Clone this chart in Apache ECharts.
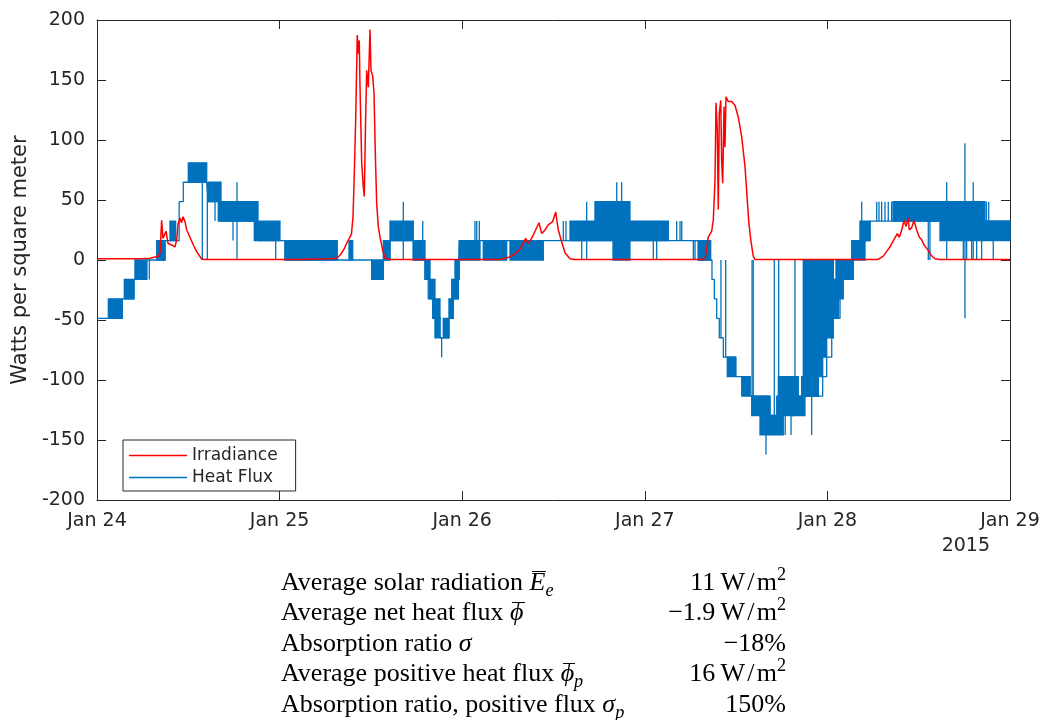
<!DOCTYPE html>
<html>
<head>
<meta charset="utf-8">
<script src="https://cdn.jsdelivr.net/npm/echarts@6/dist/echarts.min.js"></script>
<style>
  html, body { margin: 0; padding: 0; background: #fff; }
  #chart { position: absolute; left: 0; top: 0; width: 1048px; height: 720px; }
  #stats { position: absolute; left: 281px; top: 567px; width: 505px;
           font-family: "Liberation Serif", serif; font-size: 26px; color: #000; }
  #stats .row { display: flex; justify-content: space-between; height: 30.4px; line-height: 30.4px; white-space: nowrap; }
  #stats i { font-style: italic; }
  #stats .ov { position: relative; }
  #stats .ov::after { content: ''; position: absolute; left: 2px; right: -1px; top: 0.17em; border-top: 1px solid #000; }
  #stats sub, #stats sup { font-size: 70%; line-height: 0; }
</style>
</head>
<body>
<div id="chart"></div>
<div id="stats"></div>
<script>
// Time is measured in hours from Jan 24 2015, 00:00.
const dayLabels = ['Jan 24', 'Jan 25', 'Jan 26', 'Jan 27', 'Jan 28', 'Jan 29'];
const yearLabel = '2015';

// Solar irradiance [hour, W/m^2]
const irradiance = [
  [0,1],[5.65,1],[6.97,1.5],[7.36,2],[8.02,3],[8.28,6],[8.50,33],[8.67,18],[8.80,17],[9.07,24],
  [9.33,14],[9.82,12.5],[10.25,11],[10.48,17],[10.65,30],[10.91,35],[11.11,31],[11.30,36],[11.57,32],
  [11.79,25],[12.22,19],[12.66,12.5],[13.10,7],[13.76,0.8],[14.19,0.5],[26.68,0.5],[30.62,1],
  [31.54,1.5],[32.07,5],[32.46,9],[32.82,14],[32.99,12.5],[33.25,19],[33.45,22],[33.65,36],[33.82,72],
  [34.00,117],[34.21,187.5],[34.34,172],[34.47,183],[34.57,144],[34.79,81],[35.00,61],[35.13,53],
  [35.32,122],[35.45,158],[35.66,144],[35.88,192],[36.01,158],[36.24,153],[36.41,139],[36.58,89],
  [36.76,47],[36.97,28],[37.20,19],[37.55,8],[37.86,1.5],[38.51,0.5],[52.97,0.5],[54.02,2],[54.94,5],
  [55.60,9],[56.35,18],[56.65,14],[57.13,18],[57.57,24],[58.09,31],[58.45,22],[58.88,25],[59.28,29],
  [59.89,32],[60.29,40],[60.63,25],[61.08,15],[61.51,6],[62.17,1],[62.83,0.5],[79.25,0.5],[79.91,1],
  [80.11,8],[80.34,19],[80.79,24],[81.00,33],[81.23,67],[81.36,131],[81.53,108],[81.66,42],[81.79,122],
  [81.98,133],[82.11,81],[82.24,64],[82.41,128],[82.54,94],[82.67,136],[82.97,132],[83.42,132],
  [83.85,129],[84.29,119],[84.73,103],[85.17,78],[85.47,50],[85.65,33],[85.92,17],[86.26,3],[86.48,0.5],
  [102.65,0.5],[103.31,3],[103.79,7],[104.23,11],[104.75,17],[105.19,22],[105.45,19],[105.77,25],
  [106.07,33],[106.33,28],[106.63,35],[106.76,25],[107.08,27],[107.38,33],[107.74,25],[108.08,19],
  [108.39,17],[108.70,12.5],[108.96,14],[109.26,8],[109.62,4],[110.14,1],[110.80,0.5],[120,0.5]
];

// Heat flux: step trace [hour, W/m^2], value held until the next point
const fluxTrace = [
  [0,-48.6],[1.49,-48.6],[3.33,-32.4],[4.86,-16.2],[6.53,0],[6.87,-16.2],[6.87,0],[8.94,16.2],
  [10.80,48.6],[11.34,64.8],[14.42,64.8],[14.63,48.6],[16.30,32.4],[21.16,16.2],[24.71,0],
  [36.10,-16.2],[37.63,0],[38.51,16.2],[41.57,0],[43.11,-16.2],[43.77,-32.4],[44.42,-48.6],
  [45.08,-64.8],[46.26,-48.6],[46.83,-32.4],[47.49,-16.2],[47.62,16.2],[79.03,0],[80.83,-16.2],
  [81.14,-32.4],[81.45,-48.6],[81.79,-64.8],[82.32,-81],[83.95,-97.2],[85.83,-113.4],[88.45,-129.6],
  [90.20,-113.4],[95.38,-97.2],[95.91,-81],[96.57,-48.6],[97.66,-16.2],[99.40,16.2],[101.60,32.4],[120,32.4]
];

// Heat flux: spans where the reading toggles rapidly between two levels [from, to, low, high]
const fluxBands = [
  [1.49,3.33,-48.6,-32.4],[3.59,4.86,-32.4,-16.2],[4.99,6.53,-16.2,0],[7.85,8.94,0,16.2],
  [9.59,10.34,16.2,32.4],[12.00,14.42,64.8,81],[14.63,16.30,48.6,64.8],[15.94,21.16,32.4,48.6],
  [20.67,24.05,16.2,32.4],[24.71,31.58,0,16.2],[33.12,33.61,0,16.2],[36.10,37.63,-16.2,0],
  [37.63,38.51,0,16.2],[38.51,41.57,16.2,32.4],[41.57,43.11,0,16.2],[43.11,43.77,-16.2,0],
  [43.54,44.42,-32.4,-16.2],[44.12,45.08,-48.6,-32.4],[44.42,45.08,-64.8,-48.6],[45.51,46.26,-64.8,-48.6],
  [46.26,46.83,-48.6,-32.4],[46.62,47.49,-32.4,-16.2],[47.05,47.62,-16.2,0],[47.62,50.34,0,16.2],
  [50.77,53.85,0,16.2],[54.28,58.66,0,16.2],[62.17,75.09,16.2,32.4],[65.45,70.05,32.4,48.6],
  [67.82,70.05,0,16.2],[79.03,80.66,0,16.2],[82.84,83.95,-97.2,-81],[84.74,85.83,-113.4,-97.2],
  [86.05,88.45,-129.6,-113.4],[87.14,90.20,-145.8,-129.6],[89.34,91.51,-129.6,-113.4],
  [89.55,92.17,-113.4,-97.2],[91.44,93.05,-129.6,-113.4],[92.62,94.80,-113.4,-97.2],
  [92.83,94.80,-113.4,0],[94.80,95.38,-97.2,0],[95.38,95.91,-81,0],[95.91,96.78,-64.8,0],
  [96.57,97.47,-48.6,-16.2],[97.47,98.09,-32.4,-16.2],[97.13,99.40,-16.2,0],[99.19,100.94,0,16.2],
  [100.28,101.60,16.2,32.4],[104.62,116.71,32.4,48.6],[110.80,120,16.2,32.4]
];

// Heat flux: single-sample excursions [hour, low, high]
const fluxSpikes = [
  [13.84,0,81],[14.50,0,64.8],[15.51,32.4,64.8],[17.88,16.2,48.6],[18.40,0,64.8],[23.49,0,32.4],
  [40.26,0,48.6],[42.81,0,32.4],[45.30,-81,-64.8],[49.68,0,32.4],[49.91,0,32.4],[50.25,0,32.4],
  [61.29,16.2,32.4],[61.64,16.2,32.4],[63.71,0,32.4],[64.36,0,48.6],[68.31,16.2,64.8],[68.96,16.2,64.8],
  [73.12,0,32.4],[73.56,0,32.4],[76.19,16.2,32.4],[76.63,16.2,32.4],[76.85,16.2,32.4],
  [78.38,0,16.2],[78.60,0,16.2],[82.01,-64.8,0],[82.63,-81,0],[86.10,-113.4,0],[86.25,-113.4,0],
  [89.02,-129.6,0],[89.60,-97.2,0],[91.74,-97.2,0],[87.93,-162,-129.6],[90.45,-145.8,-113.4],
  [91.22,-145.8,-113.4],[93.93,-145.8,-113.4],[100.51,32.4,48.6],[102.48,32.4,48.6],[102.78,32.4,48.6],
  [103.13,32.4,48.6],[103.57,32.4,48.6],[104.00,32.4,48.6],[104.44,32.4,48.6],[109.26,0,32.4],
  [109.48,0,32.4],[111.68,0,64.8],[113.86,0,32.4],[114.08,-48.6,97.2],[114.30,0,32.4],[114.96,0,32.4],
  [115.17,0,64.8],[115.62,0,32.4],[116.27,0,32.4],[117.80,0,32.4],[116.90,16.2,48.6],[117.20,16.2,48.6]
];

// Summary statistics
const statNames = [
  'Average solar radiation <i class="ov">E</i><sub><i>e</i></sub>',
  'Average net heat flux <i class="ov">\u03D5</i>',
  'Absorption ratio <i>\u03C3</i>',
  'Average positive heat flux <i class="ov">\u03D5</i><sub><i>p</i></sub>',
  'Absorption ratio, positive flux <i>\u03C3</i><sub><i>p</i></sub>'
];
const statValues = ['11', '\u22121.9', '\u221218', '16', '150'];
const statUnits = ['W/m2', 'W/m2', '%', 'W/m2', '%'];

function unitHtml(u) {
  if (u === 'W/m2') return '\u2009W\u200A/\u200Am<sup>2</sup>';
  return u;
}
document.getElementById('stats').innerHTML = statNames.map((n, i) =>
  '<div class="row"><span>' + n + '</span><span>' + statValues[i] + unitHtml(statUnits[i]) + '</span></div>'
).join('');

const RED = '#FF0000';
const BLUE = '#0072BD';
const INK = '#262626';
const SANS = 'DejaVu Sans';

const chart = echarts.init(document.getElementById('chart'), null, { renderer: 'canvas' });

const axisBase = {
  axisLine: { show: true, onZero: false, lineStyle: { color: INK, width: 1 } },
  axisTick: { show: true, inside: true, length: 9, lineStyle: { color: INK, width: 1 } },
  splitLine: { show: false }
};

chart.setOption({
  animation: false,
  backgroundColor: '#fff',
  grid: { left: 97, right: 38, top: 20, bottom: 220, containLabel: false },
  xAxis: [
    Object.assign({}, axisBase, {
      type: 'value', min: 0, max: 120, interval: 24, position: 'bottom',
      axisLabel: {
        color: INK, fontSize: 19, fontFamily: SANS, margin: 12,
        formatter: v => dayLabels[Math.round(v / 24)]
      }
    }),
    Object.assign({}, axisBase, {
      type: 'value', min: 0, max: 120, interval: 24, position: 'top',
      axisLabel: { show: false }
    })
  ],
  yAxis: [
    Object.assign({}, axisBase, {
      type: 'value', min: -200, max: 200, interval: 50, position: 'left',
      axisLabel: { color: INK, fontSize: 19, fontFamily: SANS, margin: 12 },
      name: 'Watts per square meter', nameLocation: 'middle', nameGap: 61,
      nameTextStyle: { color: INK, fontSize: 21, fontFamily: SANS }
    }),
    Object.assign({}, axisBase, {
      type: 'value', min: -200, max: 200, interval: 50, position: 'right',
      axisLabel: { show: false }
    })
  ],
  legend: {
    data: [
      { name: 'Irradiance', icon: 'rect' },
      { name: 'Heat Flux', icon: 'rect' }
    ],
    orient: 'vertical', left: 123, top: 440,
    itemWidth: 58, itemHeight: 1.5, itemGap: 5,
    padding: [7, 18, 5, 6],
    backgroundColor: '#fff', borderColor: INK, borderWidth: 1, borderRadius: 0,
    textStyle: { color: INK, fontSize: 17, fontFamily: SANS },
    selectedMode: false
  },
  graphic: [{
    type: 'text', right: 58, top: 537,
    style: { text: yearLabel, fill: INK, font: '19px "DejaVu Sans"' }
  }],
  series: [
    {
      name: 'Heat Flux', type: 'line', data: fluxTrace, step: 'end',
      symbol: 'none', showSymbol: false,
      lineStyle: { color: BLUE, width: 1.3 }, itemStyle: { color: BLUE },
      z: 2
    },
    {
      name: 'Heat Flux', type: 'custom', data: fluxBands,
      encode: { x: [0, 1], y: [2, 3] },
      renderItem: (params, api) => {
        const a = api.coord([api.value(0), api.value(3)]);
        const b = api.coord([api.value(1), api.value(2)]);
        return {
          type: 'rect',
          shape: { x: a[0], y: a[1], width: b[0] - a[0], height: b[1] - a[1] },
          style: { fill: BLUE, stroke: BLUE, lineWidth: 1.3 }
        };
      },
      z: 2
    },
    {
      name: 'Heat Flux', type: 'custom', data: fluxSpikes,
      encode: { x: 0, y: [1, 2] },
      renderItem: (params, api) => {
        const a = api.coord([api.value(0), api.value(1)]);
        const b = api.coord([api.value(0), api.value(2)]);
        return {
          type: 'line',
          shape: { x1: a[0], y1: a[1], x2: b[0], y2: b[1] },
          style: { stroke: BLUE, lineWidth: 1.3 }
        };
      },
      z: 2
    },
    {
      name: 'Irradiance', type: 'line', data: irradiance,
      symbol: 'none', showSymbol: false,
      lineStyle: { color: RED, width: 1.5 }, itemStyle: { color: RED },
      z: 3
    }
  ]
});
</script>
</body>
</html>
